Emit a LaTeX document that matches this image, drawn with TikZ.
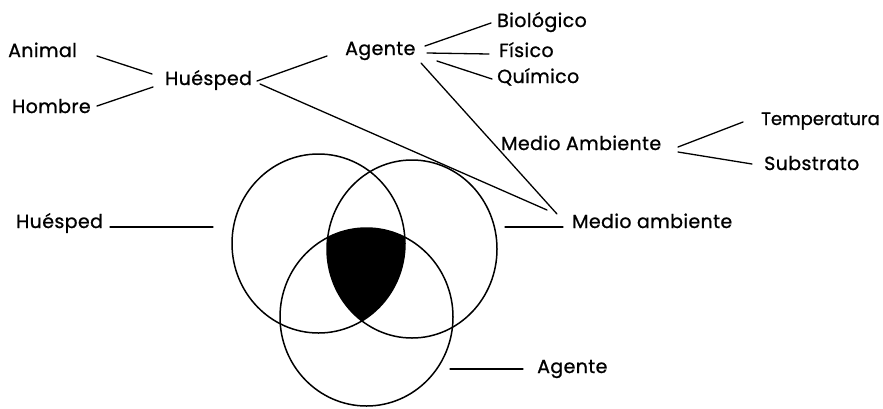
\documentclass[tikz,border=0pt]{standalone}
\usepackage{fontspec}
\setmainfont{Poppins}
\newfontfamily\lblfont{Poppins}[FakeBold=0.9, LetterSpace=2]
\newfontfamily\lblfonttight{Poppins}[FakeBold=0.9]
\begin{document}
\begin{tikzpicture}[x=1pt,y=-1pt,
  lbl/.style={font=\lblfont\fontsize{19}{23}\selectfont, inner sep=0pt, anchor=base west},
  lbltight/.style={lbl, font=\lblfonttight\fontsize{18}{22}\selectfont},
  conn/.style={line width=1.3pt, line cap=round},
  ring/.style={line width=1.5pt}]
\useasboundingbox (0,0) rectangle (883,408);
% labels (top tree)
\node[lbl] (animal) at (8,57) {Animal};
\node[lbl] (hombre) at (12,113) {Hombre};
\node[lbl] (huesA) at (165,85) {Huésped};
\node[lbl] (agenteA) at (345,55) {Agente};
\node[lbl] (bio) at (497,27) {Biológico};
\node[lbl] (fis) at (499,57) {Físico};
\node[lbl] (qui) at (497,83) {Químico};
\node[lbl] (maA) at (501,150) {Medio Ambiente};
\node[lbltight] (temp) at (761,125) {Temperatura};
\node[lbl] (sub) at (764,170) {Substrato};
% labels (venn)
\node[lbl] (huesB) at (16,228) {Huésped};
\node[lbl] (maB) at (572,228) {Medio ambiente};
\node[lbl] (agB) at (537,373) {Agente};
% connector ends
\coordinate (an1) at (97,56);   \coordinate (an2) at (152,74);
\coordinate (ho1) at (97,106);  \coordinate (ho2) at (153,87);
\coordinate (hu1) at (257,81);  \coordinate (ag1) at (327,56);
\coordinate (hu2) at (260,84);  \coordinate (mx1) at (547,210);
\coordinate (ag2) at (425,46);  \coordinate (bi1) at (491,23);
\coordinate (ag3) at (427,53);  \coordinate (fi1) at (489,54);
\coordinate (ag4) at (437,61);  \coordinate (qu1) at (492,79);
\coordinate (ag5) at (421,63);  \coordinate (mx2) at (557,214);
\coordinate (ma1) at (678,147); \coordinate (te1) at (743,122);
\coordinate (ma2) at (678,152); \coordinate (su1) at (752,164);
\coordinate (hb1) at (110,227); \coordinate (hb2) at (213,227);
\coordinate (mb1) at (505,227); \coordinate (mb2) at (563,227);
\coordinate (gb1) at (450,369); \coordinate (gb2) at (523,369);
% connectors
\draw[conn] (an1) -- (an2);
\draw[conn] (ho1) -- (ho2);
\draw[conn] (hu1) -- (ag1);
\draw[conn] (hu2) -- (mx1);
\draw[conn] (ag2) -- (bi1);
\draw[conn] (ag3) -- (fi1);
\draw[conn] (ag4) -- (qu1);
\draw[conn] (ag5) -- (mx2);
\draw[conn] (ma1) -- (te1);
\draw[conn] (ma2) -- (su1);
\draw[conn] (hb1) -- (hb2);
\draw[conn] (mb1) -- (mb2);
\draw[conn] (gb1) -- (gb2);
% venn
\coordinate (cL) at (318.5,243.5);
\coordinate (cR) at (412,249);
\coordinate (cB) at (366.5,317);
\begin{scope}
  \clip (cL) ellipse [x radius=86.5, y radius=89.5];
  \clip (cR) ellipse [x radius=85, y radius=89];
  \fill (cB) ellipse [x radius=86.5, y radius=89];
\end{scope}
\draw[ring] (cL) ellipse [x radius=86.5, y radius=89.5];
\draw[ring] (cR) ellipse [x radius=85, y radius=89];
\draw[ring] (cB) ellipse [x radius=86.5, y radius=89];
\end{tikzpicture}
\end{document}
